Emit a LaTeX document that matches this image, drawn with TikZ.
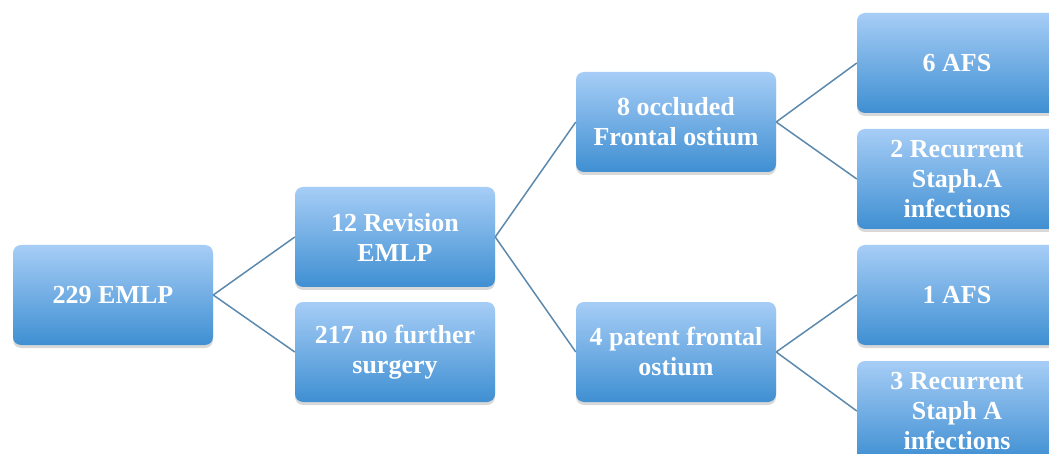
\documentclass[tikz,border=0pt]{standalone}
\usepackage{fontspec}
\setmainfont{Liberation Serif}
\usetikzlibrary{shadows}
\definecolor{boxtop}{HTML}{A6CDF6}
\definecolor{boxbot}{HTML}{3F8FD2}
\definecolor{linkc}{HTML}{5C89AE}
\tikzset{
  box/.style={rounded corners=8pt, minimum width=200pt, minimum height=100pt,
    inner sep=0pt, top color=boxtop, bottom color=boxbot, text=white,
    align=center, font=\bfseries\fontsize{26}{30}\selectfont,
    drop shadow={shadow xshift=0pt, shadow yshift=-3pt, opacity=0.25, fill=black!60}},
  link/.style={draw=linkc, line width=1.5pt}
}
\begin{document}
\begin{tikzpicture}[x=1pt,y=-1pt]
\useasboundingbox (0,0) rectangle (1049,454);
\fill[white] (0,0) rectangle (1049,454);
\clip (0,0) rectangle (1049,454);
\node[box] (a) at (113,295) {229 EMLP};
\node[box] (b) at (395,237) {12 Revision\\EMLP};
\node[box] (c) at (395,352) {217 no further\\surgery};
\node[box] (d) at (676,122) {8 occluded\\Frontal ostium};
\node[box] (e) at (676,352) {4 patent frontal\\ostium};
\node[box] (f) at (957,63) {6 AFS};
\node[box] (g) at (957,179) {2 Recurrent\\Staph.A\\infections};
\node[box] (h) at (957,295) {1 AFS};
\node[box] (i) at (957,411) {3 Recurrent\\Staph A\\infections};
\draw[link] (a.east) -- (b.west);
\draw[link] (a.east) -- (c.west);
\draw[link] (b.east) -- (d.west);
\draw[link] (b.east) -- (e.west);
\draw[link] (d.east) -- (f.west);
\draw[link] (d.east) -- (g.west);
\draw[link] (e.east) -- (h.west);
\draw[link] (e.east) -- (i.west);
\end{tikzpicture}
\end{document}
